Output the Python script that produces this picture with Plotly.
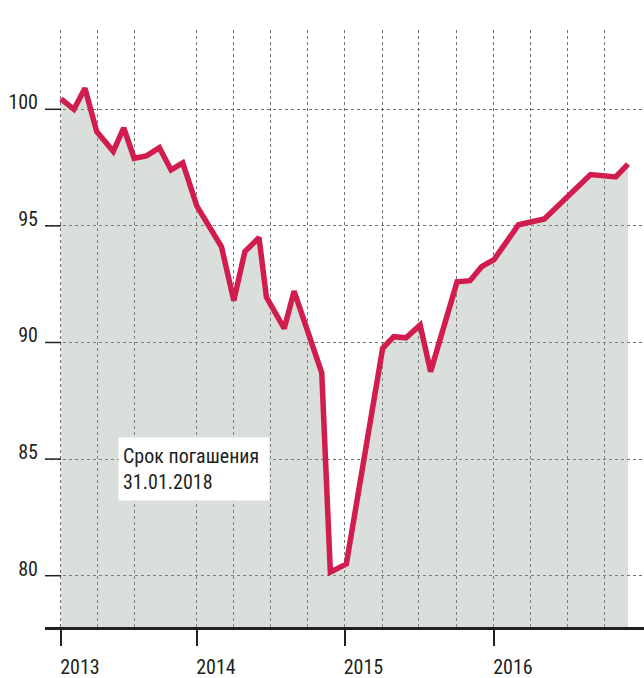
import plotly.graph_objects as go

# x positions in months since Jan 2013
months = [0, 1.05, 1.95, 2.9, 4.25, 5.1, 5.95, 6.95, 8.0, 8.95, 9.9, 11.05,
          13.05, 14.05, 14.95, 16.1, 16.7, 18.15, 18.95, 21.2, 21.9, 23.2,
          26.15, 27.05, 28.05, 29.2, 30.05, 32.2, 33.25, 34.2, 35.2, 37.2,
          39.3, 43.05, 45.1, 46.1]
values = [100.45, 100.0, 100.9, 99.05, 98.2, 99.2, 97.9, 98.0, 98.35, 97.4, 97.7, 95.85,
          94.1, 91.8, 93.9, 94.5, 91.95, 90.6, 92.2, 88.7, 80.15, 80.5,
          89.75, 90.25, 90.2, 90.75, 88.75, 92.6, 92.65, 93.25, 93.55, 95.05,
          95.3, 97.2, 97.1, 97.65]

year_ticks = [0, 11.05, 23.05, 35.2]
year_labels = ["2013", "2014", "2015", "2016"]
grid_x = [0, 3.0, 6.0, 11.05, 14.0, 17.05, 20.05, 23.05, 26.1, 29.1, 32.15,
          35.2, 38.15, 41.2, 44.15]
y_ticks = [80, 85, 90, 95, 100]
y_labels = ["80", "85", "90", "95", "100"]
note_text = "Срок погашения<br>31.01.2018"

FONT = "Liberation Sans Narrow, Roboto Condensed, DejaVu Sans Condensed, Arial Narrow, Roboto, sans-serif"
INK = "#231f20"
GRID = "#707070"
RED = "#d11d4d"

W, H = 644, 678
L, R, T, B = 45, 0, 30, 51
plot_w = W - L - R

fig = go.Figure()
fig.add_trace(go.Scatter(x=months, y=values, mode="lines", line=dict(width=0),
                         fill="tozeroy", fillcolor="rgba(149,164,155,0.35)",
                         hoverinfo="skip", showlegend=False))
fig.add_trace(go.Scatter(x=months, y=values, mode="lines",
                         line=dict(color=RED, width=5.5), showlegend=False))

shapes = []
for v in y_ticks:
    shapes.append(dict(type="line", xref="paper", yref="y", x0=0, x1=16 / plot_w,
                       y0=v, y1=v, line=dict(color=INK, width=1.5), layer="above"))

fig.add_annotation(text=note_text, xref="paper", yref="paper",
                   x=(118 - L) / plot_w, y=1 - (437 - T) / (H - T - B),
                   xanchor="left", yanchor="top", align="left", valign="middle",
                   showarrow=False, bgcolor="white", borderpad=4,
                   width=142, height=54,
                   font=dict(family=FONT, size=20, color=INK))

fig.update_layout(
    width=W, height=H, margin=dict(l=L, r=R, t=T, b=B, autoexpand=False),
    plot_bgcolor="white", paper_bgcolor="white",
    shapes=shapes,
    font=dict(family=FONT, color=INK, size=20),
    xaxis=dict(range=[-1.3, 47.4], tickmode="array", tickvals=year_ticks,
               ticktext=year_labels, ticks="outside", ticklen=16, tickwidth=1.5,
               tickcolor=INK, showline=True, linecolor=INK, linewidth=3,
               showgrid=True, gridcolor=GRID, griddash="dot", gridwidth=1,
               ticklabelshift=19, ticklabelstandoff=4, zeroline=False, automargin=False,
               minor=dict(tickmode="array", tickvals=grid_x, showgrid=True,
                          gridcolor=GRID, griddash="dot", gridwidth=1, ticks="")),
    yaxis=dict(range=[77.8, 103.4], tickmode="array", tickvals=y_ticks,
               ticktext=y_labels, ticks="", showgrid=True, gridcolor=GRID,
               griddash="dot", gridwidth=1, zeroline=False, showline=False,
               ticklabelshift=-7, ticklabelstandoff=6, automargin=False),
)

fig.write_html("out.html", config={"displayModeBar": False},
               post_script="document.body.style.margin='0';document.body.style.overflow='hidden';")
